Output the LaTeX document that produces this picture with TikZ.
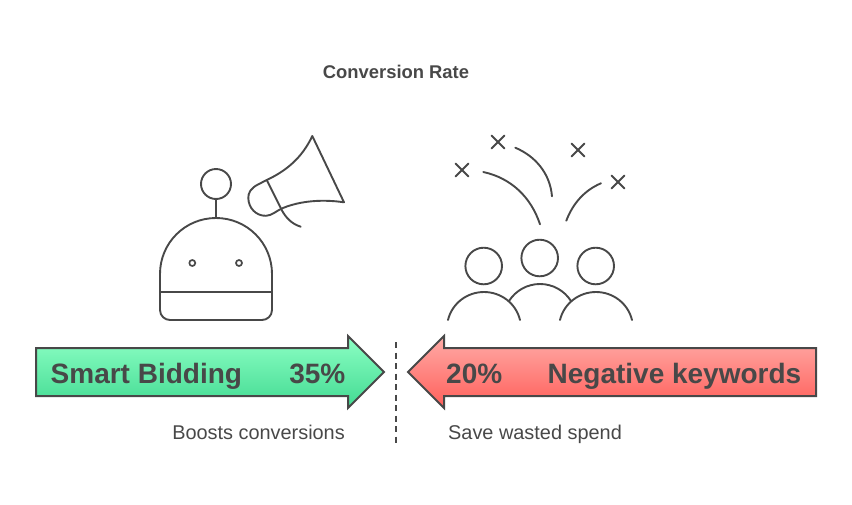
\documentclass[tikz,border=0pt]{standalone}
\usepackage{fontspec}
\setmainfont{Liberation Sans}
\definecolor{ink}{HTML}{484848}
\definecolor{gtop}{HTML}{8CFFC4}
\definecolor{gbot}{HTML}{42DA92}
\definecolor{rtop}{HTML}{FFABA7}
\definecolor{rbot}{HTML}{FF5F5A}
\tikzset{
  icon/.style={draw=ink,line width=1.9pt,line cap=round,line join=round},
  band/.style={draw=ink,line width=2pt,line join=miter},
  label/.style={text=ink,font=\bfseries\fontsize{28}{32}\selectfont,inner sep=0pt},
  sub/.style={text=ink,font=\fontsize{19.9}{22}\selectfont,inner sep=0pt},
}
\begin{document}
\begin{tikzpicture}[x=1pt,y=-1pt]
\useasboundingbox (0,0) rectangle (852,504);
% title
\node[text=ink,font=\bfseries\fontsize{18.4}{22}\selectfont,inner sep=0pt] (title) at (396,72) {Conversion Rate};
% robot
\draw[icon] (216,184) circle [radius=15];
\draw[icon] (216,199) -- (216,218);
\draw[icon] (160,292) -- (160,274) .. controls (160,243) and (185,218) .. (216,218)
  .. controls (247,218) and (272,243) .. (272,274) -- (272,310)
  .. controls (272,316) and (267,320) .. (262,320) -- (170,320)
  .. controls (165,320) and (160,316) .. (160,310) -- cycle;
\draw[icon] (160,292) -- (272,292);
\draw[icon,line width=1.7pt] (192.3,263) circle [radius=3];
\draw[icon,line width=1.7pt] (239,263) circle [radius=3];
% megaphone
\draw[icon] (312.3,136) .. controls (302,158) and (286,171) .. (266.7,180)
  -- (258,184.5) .. controls (251,188) and (248,193) .. (248.3,198)
  .. controls (248.5,208) and (256,216) .. (266,215.8)
  .. controls (272,215.5) and (276,211) .. (283,208)
  .. controls (300,201) and (322,199) .. (344,202.3) -- cycle;
\draw[icon] (266.7,180) -- (281.7,210) .. controls (286,218) and (292,224) .. (300.7,226.7);
% people
\draw[icon] (483.7,266) circle [radius=18.3];
\draw[icon] (539.7,258) circle [radius=18.3];
\draw[icon] (595.7,266) circle [radius=18.3];
\draw[icon] (448,320) .. controls (452,303.4) and (467,292) .. (484,292)
  .. controls (501,292) and (516,303.4) .. (520,320);
\draw[icon] (560,320) .. controls (564,303.4) and (579,292) .. (596,292)
  .. controls (613,292) and (628,303.4) .. (632,320);
\draw[icon] (509,301) .. controls (515.8,290.4) and (527.4,284) .. (540,284)
  .. controls (552.6,284) and (564.2,290.4) .. (571,301);
% crosses
\foreach \cx/\cy in {462/170,498/142,578/150,618/182}{
  \draw[icon] (\cx-6.5,\cy-6.5) -- (\cx+6.5,\cy+6.5);
  \draw[icon] (\cx-6.5,\cy+6.5) -- (\cx+6.5,\cy-6.5);
}
% curves
\draw[icon] (483.3,172) .. controls (511,178) and (531,197) .. (540,224.3);
\draw[icon] (515.3,147.7) .. controls (535,156) and (550,173) .. (552,196.3);
\draw[icon] (601,183.3) .. controls (585,190) and (573,203) .. (566.3,220.7);
% arrows
\draw[band,top color=gtop,bottom color=gbot] (36,348) -- (348,348) -- (348,336) -- (384,372) -- (348,408) -- (348,396) -- (36,396) -- cycle;
\draw[band,top color=rtop,bottom color=rbot] (816,348) -- (444,348) -- (444,336) -- (408,372) -- (444,408) -- (444,396) -- (816,396) -- cycle;
\node[label,anchor=base west] (smart) at (50.5,383) {Smart Bidding};
\node[label,anchor=base east] (p35) at (345.5,383) {35\%};
\node[label,anchor=base west] (p20) at (446,383) {20\%};
\node[label,anchor=base east] (neg) at (801.5,383) {Negative keywords};
\node[sub,anchor=base east] (boost) at (345,439) {Boosts conversions};
\node[sub,anchor=base west] (save) at (448,439) {Save wasted spend};
% divider
\coordinate (dtop) at (396,342);
\coordinate (dbot) at (396,445.5);
\draw[draw=ink,line width=1.9pt,dash pattern=on 6pt off 4.5pt] (dtop) -- (dbot);
\end{tikzpicture}
\end{document}
